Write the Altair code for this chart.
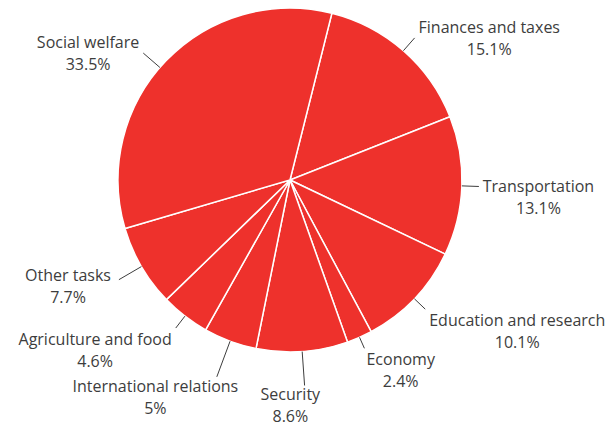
import math
import altair as alt
import pandas as pd

# ---- data (clockwise order, starting just right of 12 o'clock) ----
categories = [
    "Finances and taxes",
    "Transportation",
    "Education and research",
    "Economy",
    "Security",
    "International relations",
    "Agriculture and food",
    "Other tasks",
    "Social welfare",
]
shares = [15.1, 13.1, 10.1, 2.4, 8.6, 5, 4.6, 7.7, 33.5]

# ---- layout / style ----
W, H = 597, 418
CX, CY = 282, 172          # pie centre inside the view
R = 172                    # pie radius
START_DEG = 14.1           # angle of the first slice edge (clockwise from top)
FONT, FS, LH = "Open Sans", 16, 22
RED = "#ee312c"
INK = "#3d3d3d"
leader_len = {"Finances and taxes": 17, "Transportation": 17,
              "Education and research": 15, "Economy": 12, "Security": 34,
              "International relations": 38, "Agriculture and food": 15,
              "Other tasks": 26, "Social welfare": 22}
leader_turn = {"Social welfare": -3}          # degrees, small nudges of leader direction
label_dy = {"Other tasks": -5}                # extra vertical nudges
label_gap = {"Other tasks": 8, "Economy": 2}  # gap between leader end and label
# labels hung below their leader: fraction of label width left of the leader end
below = {"Security": 0.24, "International relations": 0.37}
GAP = 4

# approximate Open Sans advance widths (units of 1/2048 em)
ADV = {" ": 532, "%": 1696, ".": 545, "A": 1296, "E": 1139, "F": 1057, "I": 621,
       "O": 1593, "S": 1098, "T": 1096, "a": 1139, "c": 975, "d": 1255, "e": 1149,
       "f": 694, "g": 1122, "h": 1257, "i": 518, "k": 1075, "l": 518, "m": 1905,
       "n": 1257, "o": 1237, "p": 1255, "r": 836, "s": 977, "t": 723, "u": 1257,
       "w": 1606, "x": 1051, "y": 1032}


def text_w(s):
    return sum(ADV.get(ch, 1171 if ch.isdigit() else 1100) for ch in s) * FS / 2048


total = sum(shares)
rows, lines, labels = [], [], []
cum = 0.0
for cat, v in zip(categories, shares):
    rows.append({"cat": cat, "start": cum, "end": cum + v})
    mid = math.radians(START_DEG + (cum + v / 2) / total * 360 + leader_turn.get(cat, 0))
    s, c = math.sin(mid), math.cos(mid)
    L = leader_len[cat]
    x0, y0 = CX + R * s, CY - R * c
    x1, y1 = CX + (R + L) * s, CY - (R + L) * c
    lines.append({"cat": cat, "x": x0, "y": y0, "x2": x1, "y2": y1})
    pct = f"{v:g}%"
    wmax = max(text_w(cat), text_w(pct))
    if cat in below:
        tx = x1 - below[cat] * wmax
        ty = y1 + 15
    else:
        sgn = 1 if s > 0 else -1
        tx = x1 + sgn * (label_gap.get(cat, GAP) + wmax / 2)
        dy = (-11 if c > 0 else 11) if abs(c) > 0.6 else 0
        ty = y1 + dy + 6 + label_dy.get(cat, 0)
    labels.append({"cat": cat, "x": tx, "y": ty, "label": f"{cat}\n{pct}"})
    cum += v

slices = pd.DataFrame(rows)
leaders = pd.DataFrame(lines)
texts = pd.DataFrame(labels)

xs = alt.Scale(domain=[0, W], nice=False, zero=False)
ys = alt.Scale(domain=[0, H], nice=False, zero=False, reverse=True)

pie = alt.Chart(slices).mark_arc(
    radius=R, stroke="white", strokeWidth=1.5, fill=RED
).encode(
    theta=alt.Theta("start:Q", scale=alt.Scale(
        domain=[0, total],
        range=[math.radians(START_DEG), math.radians(START_DEG) + 2 * math.pi])),
    theta2="end:Q",
    x=alt.value(CX),
    y=alt.value(CY),
)

rules = alt.Chart(leaders).mark_rule(color=INK, strokeWidth=1).encode(
    x=alt.X("x:Q", scale=xs, axis=None),
    y=alt.Y("y:Q", scale=ys, axis=None),
    x2="x2:Q",
    y2="y2:Q",
)

text = alt.Chart(texts).mark_text(
    font=FONT, fontSize=FS, color=INK, align="center", baseline="alphabetic",
    lineBreak="\n", lineHeight=LH,
).encode(
    x=alt.X("x:Q", scale=xs, axis=None),
    y=alt.Y("y:Q", scale=ys, axis=None),
    text="label:N",
)

chart = alt.layer(pie, rules, text).properties(
    width=W, height=H, padding=0, autosize="none"
).configure_view(stroke=None)

chart.save("out.html", embed_options={"renderer": "svg", "actions": False})
